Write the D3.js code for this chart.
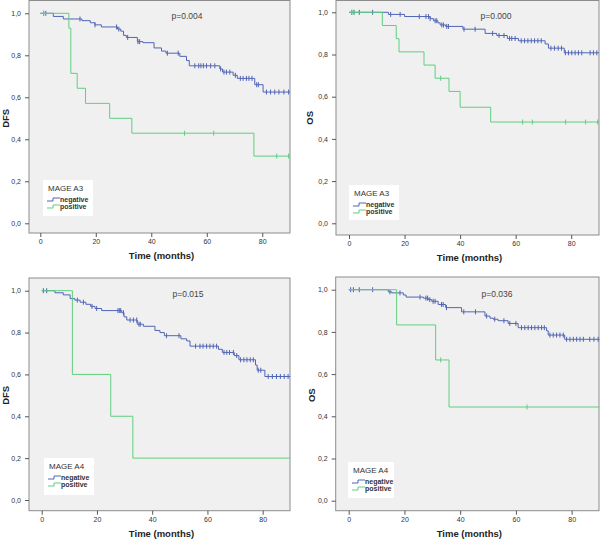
<!DOCTYPE html>
<html><head><meta charset="utf-8">
<script src="https://cdn.jsdelivr.net/npm/d3@7"></script>
<style>body{margin:0;background:#fff}svg{display:block}text{font-family:"Liberation Sans",Arial,sans-serif}</style>
</head><body>
<svg id="c" width="600" height="540"></svg>
<script>
// ---- data ----
const xTicks = [0, 20, 40, 60, 80];
const yTicks = [0, 0.2, 0.4, 0.6, 0.8, 1.0];
const seriesNames = ["negative", "positive"];
const markerNames = ["MAGE A3", "MAGE A3", "MAGE A4", "MAGE A4"];
const yLabels = ["DFS", "OS", "DFS", "OS"];
const pValues = ["p=0.004", "p=0.000", "p=0.015", "p=0.036"];

const dfsA3Neg = [[0,1],[4.7,0.985],[8.3,0.973],[15,0.965],[18,0.955],[19.7,0.945],[22,0.935],[27.8,0.925],[29,0.915],[30,0.895],[31,0.885],[35,0.865],[37,0.86],[41,0.835],[43.7,0.82],[45.3,0.81],[50.3,0.795],[52.7,0.775],[53.7,0.75],[64.7,0.735],[65.7,0.72],[69.5,0.705],[71,0.69],[77.3,0.66],[80.3,0.625]];
const dfsA3NegCens = [1.2,2,14.3,19.7,27.5,28.3,31.5,35.2,35.8,45.8,49.7,55.7,57.1,57.9,58.8,59.9,61.4,62.9,65,66.2,67.1,68.3,70.3,72.1,73.1,74.3,75.2,76.3,78,78.6,81.5,83,84.5,86,87.8,89.5];
const dfsA3Pos = [[0,1],[10.3,0.929],[11,0.714],[13.3,0.643],[16.3,0.571],[25,0.5],[33,0.429],[77,0.32]];
const dfsA3PosCens = [1.2,52,62.5,85.2,89.5];

const osA3Neg = [[0,1],[14.2,0.99],[20,0.98],[29.2,0.97],[30.4,0.96],[32,0.95],[32.8,0.94],[34.8,0.933],[41,0.92],[49,0.9],[53.2,0.89],[57,0.876],[61,0.865],[70.6,0.85],[71.8,0.83],[77.5,0.808]];
const osA3NegCens = [1,1.8,3.7,8.5,15,18.4,25.3,27.7,28.6,29.2,31,31.6,33.4,34,35.2,35.8,41.4,45.4,51.7,54,55.8,57.8,58.6,59.8,62,63.2,64.4,65.6,66.8,68,69.2,72.7,74,75.3,76.5,77.9,79,80.2,81.4,82.6,83.8,86.8,88,89.2];
const osA3Pos = [[0,1],[12,0.9375],[17,0.875],[18,0.8125],[27,0.75],[31,0.6875],[36,0.625],[40,0.55],[51,0.48]];
const osA3PosCens = [1,1.8,33,62.5,66,78,85.2,89.5];

const dfsA4Neg = [[0,1],[4.8,0.99],[7.8,0.98],[10.3,0.962],[12,0.955],[13.9,0.945],[16,0.935],[17.7,0.925],[19.3,0.915],[21.7,0.905],[29,0.895],[29.8,0.875],[30.8,0.86],[34.6,0.84],[36.8,0.83],[41,0.81],[42.8,0.8],[44.4,0.785],[50.4,0.77],[52.5,0.76],[53.7,0.735],[64,0.72],[65.4,0.705],[69.7,0.69],[71.4,0.67],[77.4,0.645],[78,0.62],[80.8,0.59]];
const dfsA4NegCens = [0.6,1.8,12.9,15.1,18.2,19.9,27.6,28.1,28.6,29.6,32,33.2,34.4,35.2,35.7,45.2,49.7,55.7,57.3,58.4,59.7,60.9,62.1,63.3,66,67,68,69.4,70.6,72,73.2,74.3,75.5,76.6,78.4,79.3,82,83.5,85,86.4,87.8,89.2];
const dfsA4Pos = [[0,1],[11.1,0.6],[25,0.4],[33,0.2]];
const dfsA4PosCens = [];

const osA4Neg = [[0,1],[14.2,0.99],[15.4,0.985],[19.6,0.975],[20.6,0.965],[26.8,0.96],[28.6,0.953],[29.8,0.945],[32.1,0.93],[34.8,0.915],[40.5,0.895],[48.9,0.875],[50.7,0.865],[51.9,0.86],[53.6,0.853],[57.2,0.84],[60.8,0.82],[71,0.805],[71.6,0.785],[77.5,0.765]];
const osA4NegCens = [0.7,1.7,3.8,8.6,14.8,18.4,25.6,27.7,28.3,29.1,30.3,31,33.3,33.9,35.1,41.3,45.5,49.5,52.4,55.7,57.8,60,62,63.2,64.4,65.6,66.8,68,69.2,70.2,72.2,73.4,74.6,75.8,77,78.2,79.4,80.6,81.8,83,84.2,86.5,88,89.5];
const osA4Pos = [[0,1],[17.2,0.833],[31.2,0.667],[36,0.444]];
const osA4PosCens = [33,64];

const xMax = 90;

// ---- layout ----
const panels = [
  {neg:dfsA3Neg, negC:dfsA3NegCens, pos:dfsA3Pos, posC:dfsA3PosCens,
   fx0:29, fx1:290, fy0:0.5, fy1:233, x0:40.3, x90:290, y0:223.3, y1:13.3,
   yl:5, px:187, py:19, lg:{x:43,y:180,w:50,h:36}},
  {neg:osA3Neg, negC:osA3NegCens, pos:osA3Pos, posC:osA3PosCens,
   fx0:336, fx1:599, fy0:0.5, fy1:235, x0:349, x90:599, y0:223.3, y1:12.3,
   yl:309, px:496, py:19, lg:{x:349,y:185,w:50,h:35}},
  {neg:dfsA4Neg, negC:dfsA4NegCens, pos:dfsA4Pos, posC:dfsA4PosCens,
   fx0:29, fx1:290, fy0:278, fy1:510.7, x0:41.7, x90:290.3, y0:500, y1:290.7,
   yl:5, px:188, py:297, lg:{x:44,y:458,w:50,h:37}},
  {neg:osA4Neg, negC:osA4NegCens, pos:osA4Pos, posC:osA4PosCens,
   fx0:335.7, fx1:599, fy0:277, fy1:510.7, x0:348.7, x90:599.5, y0:500.7, y1:289.7,
   yl:311, px:497, py:297, lg:{x:348,y:462,w:46,h:36}}
];
const colNeg = "#5065b5", colPos = "#5fcf7e";

const svg = d3.select("#c");

function survAt(steps, t){
  let v = steps[0][1];
  for (const s of steps) if (s[0] <= t) v = s[1];
  return v;
}

panels.forEach((p, i) => {
  const x = d3.scaleLinear().domain([0, xMax]).range([p.x0, p.x90]);
  const y = d3.scaleLinear().domain([0, 1]).range([p.y0, p.y1]);
  const g = svg.append("g");

  g.append("rect").attr("x", p.fx0).attr("y", p.fy0)
    .attr("width", p.fx1 - p.fx0).attr("height", p.fy1 - p.fy0)
    .attr("fill", "#f0f0f0").attr("stroke", "#8c8c8c").attr("stroke-width", 1);

  // x axis
  const xa = g.append("g").attr("transform", `translate(0,${p.fy1})`)
    .call(d3.axisBottom(x).tickValues(xTicks).tickSize(4).tickSizeOuter(0).tickFormat(d3.format("d")));
  xa.select(".domain").remove();
  xa.selectAll("line").attr("stroke", "#555");
  xa.selectAll("text").attr("font-size", "7px").attr("fill", "#333").attr("dy", "0.6em");

  // y axis
  const ya = g.append("g").attr("transform", `translate(${p.fx0},0)`)
    .call(d3.axisLeft(y).tickValues(yTicks).tickSize(4).tickSizeOuter(0)
      .tickFormat(d => d3.format(".1f")(d).replace(".", ",")));
  ya.select(".domain").remove();
  ya.selectAll("line").attr("stroke", "#555");
  ya.selectAll("text").attr("font-size", "7px").attr("fill", "#333").attr("dx", "-1");

  // axis titles
  g.append("text").attr("x", (p.fx0 + p.fx1) / 2 + 2).attr("y", p.fy1 + 26)
    .attr("text-anchor", "middle").attr("font-size", "9.5px").attr("font-weight", "bold")
    .attr("fill", "#222").text("Time (months)");
  g.append("text").attr("transform", `translate(${p.yl + 4},${(p.y0 + p.y1) / 2}) rotate(-90)`)
    .attr("text-anchor", "middle").attr("font-size", "9.5px").attr("font-weight", "bold")
    .attr("fill", "#222").text(yLabels[i]);

  // p value
  g.append("text").attr("x", p.px).attr("y", p.py).attr("text-anchor", "middle")
    .attr("font-size", "8.5px").attr("fill", "#444").text(pValues[i]);

  const line = d3.line().x(d => x(d[0])).y(d => y(d[1])).curve(d3.curveStepAfter);

  [[p.neg, p.negC, colNeg], [p.pos, p.posC, colPos]].forEach(([steps, cens, col]) => {
    const pts = steps.concat([[xMax, steps[steps.length - 1][1]]]);
    g.append("path").attr("d", line(pts)).attr("fill", "none")
      .attr("stroke", col).attr("stroke-width", 1);
    g.selectAll(null).data(cens).enter().append("line")
      .attr("x1", d => x(d)).attr("x2", d => x(d))
      .attr("y1", d => y(survAt(steps, d)) - 2.5).attr("y2", d => y(survAt(steps, d)) + 2.5)
      .attr("stroke", col).attr("stroke-width", 1);
  });

  // legend
  const L = p.lg;
  g.append("rect").attr("x", L.x).attr("y", L.y).attr("width", L.w).attr("height", L.h)
    .attr("fill", "#fff");
  g.append("text").attr("x", L.x + 5).attr("y", L.y + 11).attr("font-size", "8px")
    .attr("fill", "#333").text(markerNames[i]);
  seriesNames.forEach((nm, k) => {
    const ly = L.y + 20 + k * 7;
    const col = k === 0 ? colNeg : colPos;
    g.append("path").attr("d", `M${L.x + 4},${ly + 1}H${L.x + 10}V${ly - 2}H${L.x + 17}`)
      .attr("fill", "none").attr("stroke", col).attr("stroke-width", 1);
    g.append("text").attr("x", L.x + 17).attr("y", ly + 2).attr("font-size", "7px")
      .attr("font-weight", "600").attr("fill", "#333").text(nm);
  });
});
</script>
</body></html>
